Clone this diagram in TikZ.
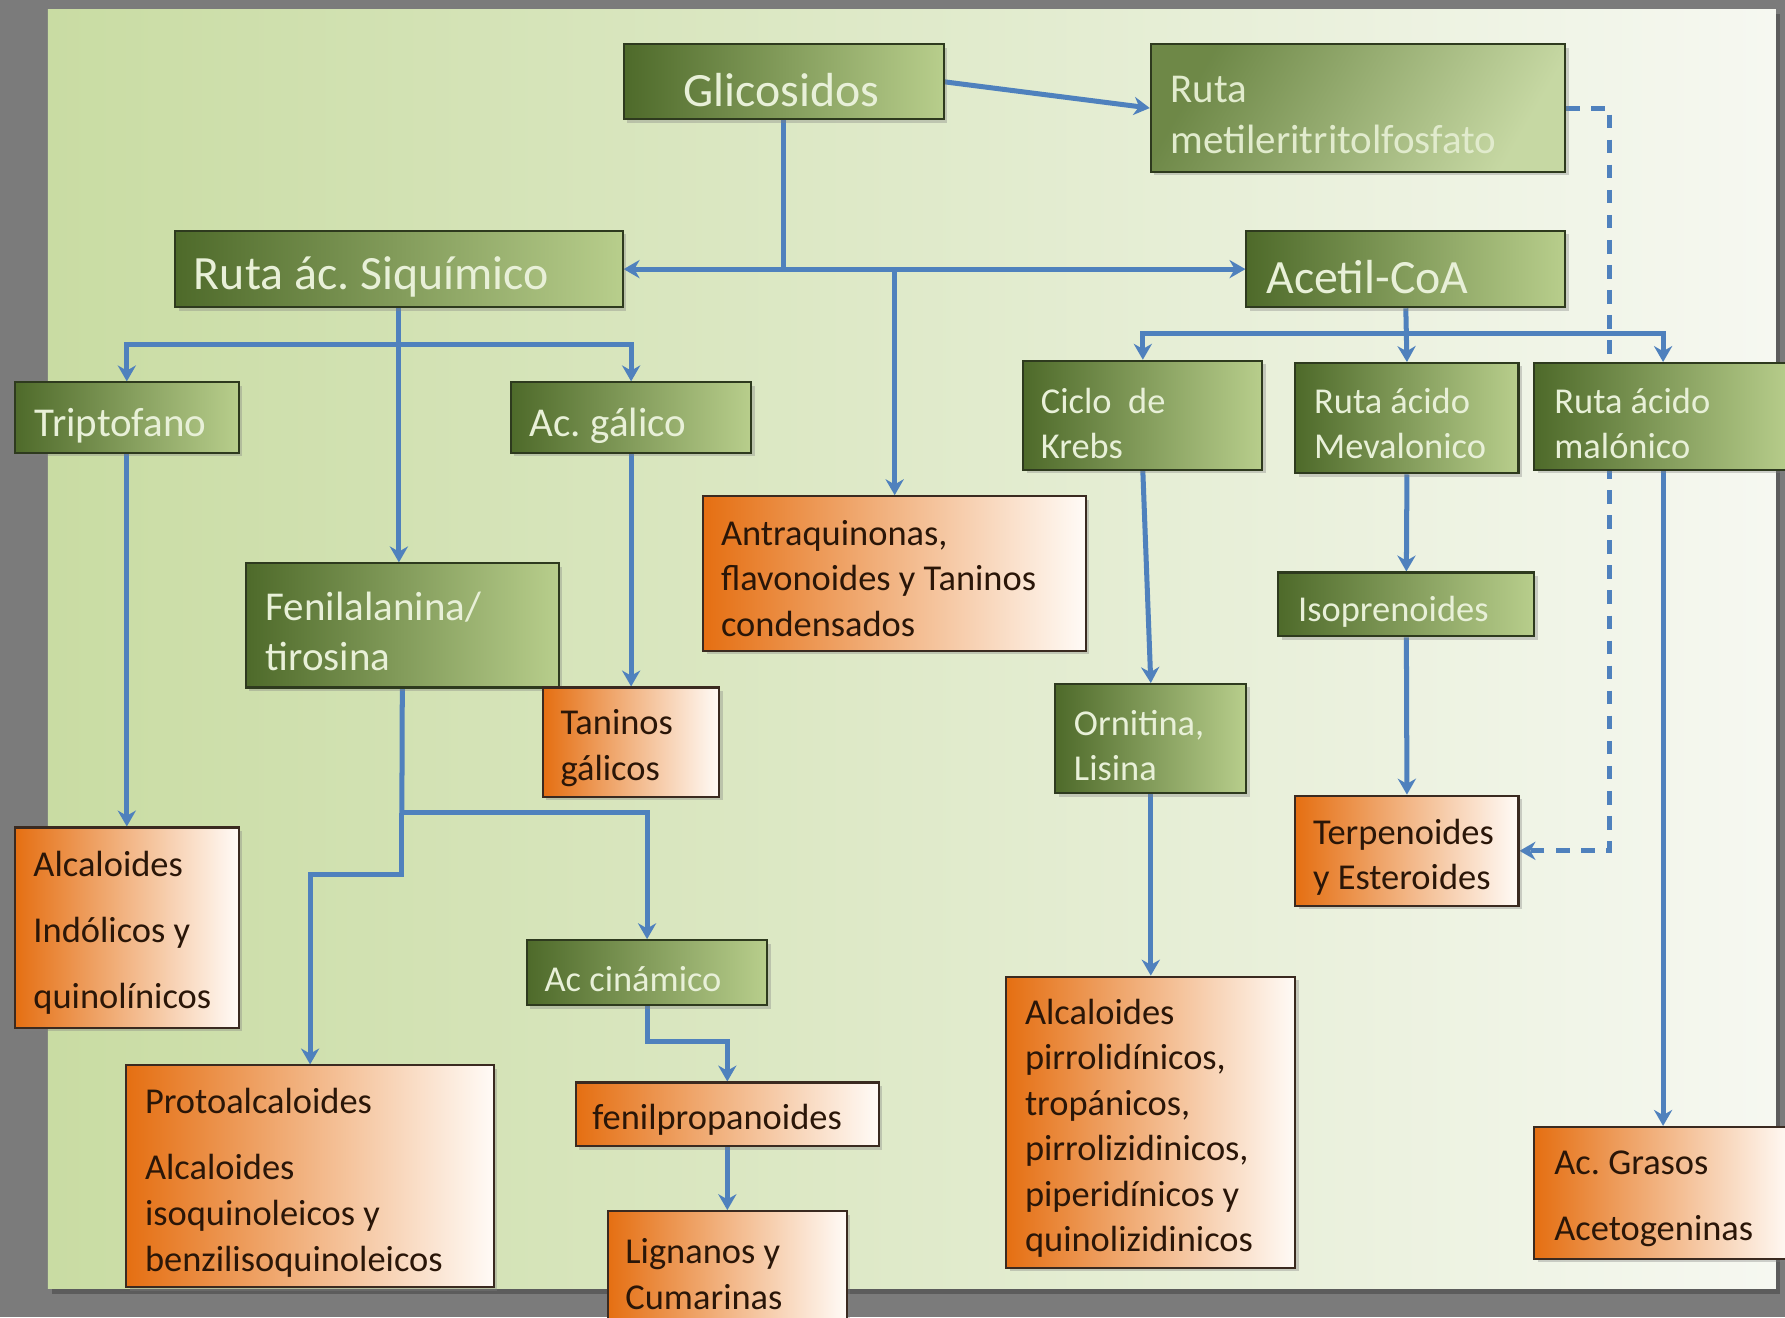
\documentclass[tikz,border=0pt]{standalone}
\usepackage{fontspec}
\setmainfont{Carlito}
\usetikzlibrary{arrows.meta,shadows}
\pgfdeclarelayer{bg}
\pgfdeclarelayer{conn}
\pgfsetlayers{bg,conn,main}
\frenchspacing
\definecolor{frame}{HTML}{7B7B7B}
\definecolor{panelL}{HTML}{C9DCA3}
\definecolor{panelR}{HTML}{F6F8F1}
\definecolor{gdark}{HTML}{4E6A2A}
\definecolor{glight}{HTML}{B8CE8C}
\definecolor{gborder}{HTML}{2E3A1E}
\definecolor{gtxt}{HTML}{E8F0D8}
\definecolor{odark}{HTML}{E56F12}
\definecolor{olight}{HTML}{FFFBF7}
\definecolor{oborder}{HTML}{3A2A20}
\definecolor{otxt}{HTML}{2A1608}
\definecolor{arrblue}{HTML}{4F81BD}
\newcommand\mkbox[6]{%
  \node[#1, minimum width={(#5-#3)*0.5pt}, minimum height={(#6-#4)*0.5pt}, anchor=north west] (#2) at (#3,#4) {};}
\begin{document}
\begin{tikzpicture}[x=0.5pt,y=-0.5pt,
  shad/.style={drop shadow={opacity=0.35,shadow xshift=1.5pt,shadow yshift=-1.5pt}},
  gbox/.style={draw=gborder, line width=0.9pt, left color=gdark, right color=glight, shad, inner sep=0},
  gmet/.style={draw=gborder, line width=0.9pt, left color=gdark!70!glight, right color=glight!80!white, shading angle=60, shad, inner sep=0},
  obox/.style={draw=oborder, line width=0.9pt, left color=odark, right color=olight, shad, inner sep=0},
  gtext/.style={text=gtxt, inner sep=0, anchor=west, align=left, yshift=-1.5pt},
  otext/.style={text=otxt, inner sep=0, anchor=west, align=left, yshift=-1.5pt},
  big/.style={font=\fontsize{21}{25}\selectfont},
  med/.style={font=\fontsize{18}{22}\selectfont},
  sml/.style={font=\fontsize{16}{20}\selectfont},
  wide/.style={font=\fontsize{16}{29}\selectfont},
  arr/.style={draw=arrblue, line width=2.2pt, -{Stealth[length=7pt,width=8pt]}},
  arrboth/.style={draw=arrblue, line width=2.2pt, {Stealth[length=7pt,width=8pt]}-{Stealth[length=7pt,width=8pt]}},
  plain/.style={draw=arrblue, line width=2.2pt},
  dasharr/.style={draw=arrblue, line width=2.2pt, dash pattern=on 6pt off 5pt, -{Stealth[length=7pt,width=8pt]}}
]
\useasboundingbox (0,0) rectangle (1568,1157);
\clip (0,0) rectangle (1568,1157);
\begin{pgfonlayer}{bg}
  \fill[frame] (0,0) rectangle (1568,1157);
  \fill[black, opacity=0.25] (46,12) rectangle (1564,1137);
  \shade[left color=panelL, right color=panelR] (42,8) rectangle (1560,1132);
\end{pgfonlayer}

% boxes
\mkbox{gbox}{glic}{547}{38}{828}{104}
\mkbox{gmet}{rmet}{1010}{38}{1374}{150}
\mkbox{gbox}{siq}{153}{202}{546}{269}
\mkbox{gbox}{acet}{1094}{202}{1374}{269}
\mkbox{gbox}{trip}{12}{335}{209}{397}
\mkbox{gbox}{gal}{448}{335}{659}{397}
\mkbox{gbox}{kreb}{898}{316}{1108}{412}
\mkbox{gbox}{mev}{1137}{318}{1333}{415}
\mkbox{gbox}{mal}{1347}{318}{1573}{412}
\mkbox{obox}{antr}{617}{435}{953}{571}
\mkbox{gbox}{fen}{215}{494}{490}{603}
\mkbox{gbox}{iso}{1122}{502}{1347}{558}
\mkbox{obox}{tan}{476}{603}{631}{699}
\mkbox{gbox}{orn}{926}{600}{1094}{696}
\mkbox{obox}{terp}{1137}{698}{1333}{795}
\mkbox{obox}{alci}{12}{726}{209}{902}
\mkbox{gbox}{cin}{462}{825}{673}{882}
\mkbox{obox}{proto}{110}{935}{433}{1130}
\mkbox{obox}{fenp}{505}{950}{771}{1006}
\mkbox{obox}{alcp}{883}{857}{1137}{1113}
\mkbox{obox}{gras}{1347}{989}{1573}{1105}
\mkbox{obox}{lign}{533}{1063}{743}{1180}

% texts
\node[gtext,big] (t-glic) at (600,76) {Glicosidos};
\node[gtext,med,text=gtxt!85!glight] (t-rmet) at (1028,98) {Ruta\\metileritritolfosfato};
\node[gtext,big] (t-siq) at (170,240) {Ruta ác. Siquímico};
\node[gtext,big] (t-acet) at (1112,240) {Acetil-CoA};
\node[gtext,med] (t-trip) at (30,371) {Triptofano};
\node[gtext,med] (t-gal) at (465,371) {Ac. gálico};
\node[gtext,sml] (t-kreb) at (914,369) {Ciclo\ \ de\\Krebs};
\node[gtext,sml] (t-mev) at (1154,369) {Ruta ácido\\Mevalonico};
\node[gtext,sml] (t-mal) at (1365,369) {Ruta ácido\\malónico};
\node[otext,sml] (t-antr) at (633,505) {Antraquinonas,\\flavonoides y Taninos\\condensados};
\node[gtext,med] (t-fen) at (233,552) {Fenilalanina/\\tirosina};
\node[gtext,sml] (t-iso) at (1140,534) {Isoprenoides};
\node[otext,sml] (t-tan) at (492,654) {Taninos\\gálicos};
\node[gtext,sml] (t-orn) at (943,652) {Ornitina,\\Lisina};
\node[otext,sml] (t-terp) at (1153,750) {Terpenoides\\y Esteroides};
\node[otext,wide] (t-alci) at (29,816) {Alcaloides\\Indólicos y\\quinolínicos};
\node[gtext,sml] (t-cin) at (478,857) {Ac cinámico};
\node[otext,sml] (t-proto) at (127,1036) {Protoalcaloides\\[9pt]Alcaloides\\isoquinoleicos y\\benzilisoquinoleicos};
\node[otext,sml] (t-fenp) at (520,981) {fenilpropanoides};
\node[otext,sml] (t-alcp) at (900,988) {Alcaloides\\pirrolidínicos,\\tropánicos,\\pirrolizidinicos,\\piperidínicos y\\quinolizidinicos};
\node[otext,wide] (t-gras) at (1365,1050) {Ac. Grasos\\Acetogeninas};
\node[otext,sml] (t-lign) at (549,1116) {Lignanos y\\Cumarinas};

% connectors
\coordinate (sqbar) at (350,303);
\coordinate (fsplit) at (353,714);
\coordinate (fbend) at (353,768);
\coordinate (cbend) at (600,915);
\coordinate (abar) at (1234,293);
\coordinate (dashx) at (1414,400);
\begin{pgfonlayer}{conn}
  \draw[arr] (glic.east) -- (rmet.west);
  \draw[plain] (glic.south) -- (glic.south |- siq.east);
  \draw[arrboth] (siq.east) -- (acet.west);
  \draw[arr] (antr.north |- siq.east) -- (antr.north);
  \draw[arr] (siq.south) -- (siq.south |- fen.north);
  \draw[arr] (sqbar) -| (trip.north);
  \draw[arr] (sqbar) -| (gal.north);
  \draw[arr] (trip.south) -- (alci.north);
  \draw[arr] (gal.south) -- (tan.north);
  \draw[plain] (fen.south) -- (fsplit);
  \draw[arr] (fsplit) -| (cin.north);
  \draw[arr] (fsplit) -- (fbend) -| (proto.north);
  \draw[arr] (cin.south) -- (cin.south |- cbend) -| (fenp.north);
  \draw[arr] (fenp.south) -- (lign.north);
  \draw[arr] (acet.south) -- (mev.north);
  \draw[arr] (abar) -| (kreb.north);
  \draw[arr] (abar) -| (mal.north);
  \draw[arr] (kreb.south) -- (orn.north);
  \draw[arr] (orn.south) -- (alcp.north);
  \draw[arr] (mev.south) -- (iso.north);
  \draw[arr] (iso.south) -- (terp.north);
  \draw[arr] (mal.south) -- (gras.north);
  \draw[dasharr] (rmet.east) -| (dashx) |- (terp.east);
\end{pgfonlayer}
\end{tikzpicture}
\end{document}
